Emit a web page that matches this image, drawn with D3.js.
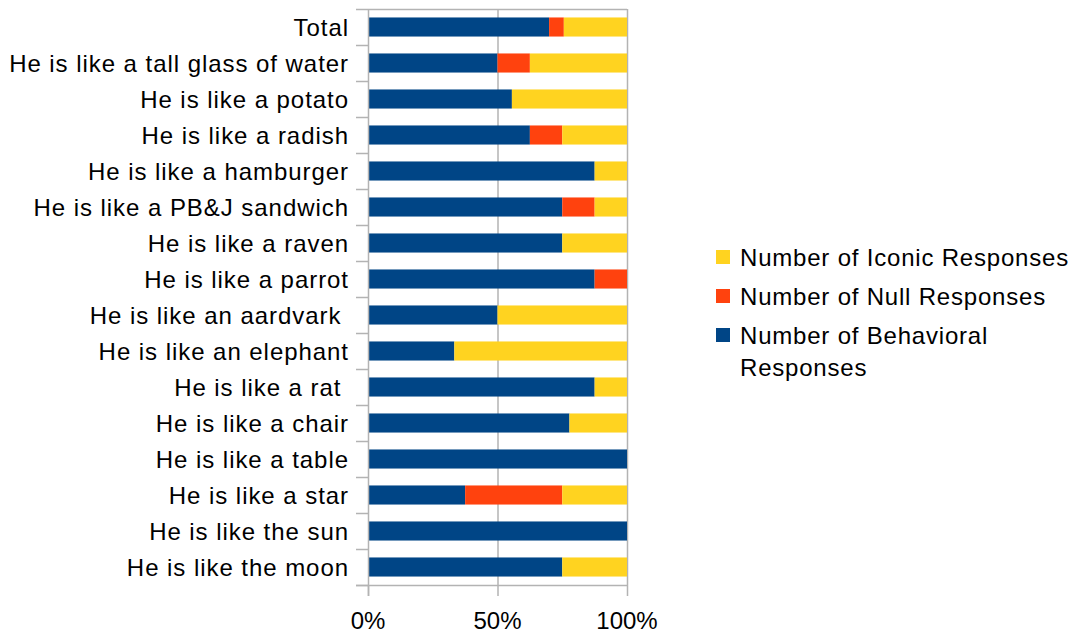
<!DOCTYPE html>
<html>
<head>
<meta charset="utf-8">
<script src="https://cdn.jsdelivr.net/npm/d3@7"></script>
<style>
	body { margin: 0; background: #fff; }
	text { font-family: "Liberation Sans", Arial, sans-serif; fill: #000; }
</style>
</head>
<body>
<div id="chart"></div>
<script>
'use strict';

// categories, top to bottom
const categories = [
	"Total",
	"He is like a tall glass of water",
	"He is like a potato",
	"He is like a radish",
	"He is like a hamburger",
	"He is like a PB&J sandwich",
	"He is like a raven",
	"He is like a parrot",
	"He is like an aardvark ",
	"He is like an elephant",
	"He is like a rat ",
	"He is like a chair",
	"He is like a table",
	"He is like a star",
	"He is like the sun",
	"He is like the moon"
];

// response counts per category
const behavioral = [86, 4, 5, 5, 7, 6, 6, 7, 4, 3, 7, 7, 8, 3, 8, 6];
const nullResp   = [ 7, 1, 0, 1, 0, 1, 0, 1, 0, 0, 0, 0, 0, 3, 0, 0];
const iconic     = [30, 3, 4, 2, 1, 1, 2, 0, 4, 6, 1, 2, 0, 2, 0, 2];

const seriesNames = ["Number of Behavioral Responses", "Number of Null Responses", "Number of Iconic Responses"];
const seriesColors = ["#004586", "#ff420e", "#ffd320"];
const xTicks = [0, 0.5, 1];

const width = 1078, height = 636;
const margin = { top: 9, left: 368, right: 451, bottom: 51 };

const svg = d3.select("#chart")
	.append("svg")
		.attr("width", width)
		.attr("height", height);

const rows = categories.map((c, i) => {
	const tot = behavioral[i] + nullResp[i] + iconic[i];
	return { cat: c, b: behavioral[i] / tot, n: nullResp[i] / tot, ic: iconic[i] / tot };
});

const stack = d3.stack().keys(["b", "n", "ic"]);
const series = stack(rows);

const x = d3.scaleLinear()
	.domain([0, 1])
	.range([margin.left, width - margin.right]);

const y = d3.scaleBand()
	.domain(categories)
	.range([margin.top, height - margin.bottom])
	.paddingInner(0.47)
	.paddingOuter(0.235);

const yLine = d3.scaleLinear()
	.domain([0, categories.length])
	.range([margin.top, height - margin.bottom]);

const grid = "#b3b3b3";

// vertical gridlines
svg.append("g")
	.selectAll("line")
	.data(xTicks.slice(1))
	.join("line")
		.attr("x1", d => x(d) + 0.5)
		.attr("x2", d => x(d) + 0.5)
		.attr("y1", margin.top)
		.attr("y2", height - margin.bottom)
		.attr("stroke", grid)
		.attr("stroke-width", 1.5);

// top edge
svg.append("line")
	.attr("x1", x(0)).attr("x2", x(1))
	.attr("y1", margin.top + 0.5).attr("y2", margin.top + 0.5)
	.attr("stroke", grid).attr("stroke-width", 1.5);

// bars
svg.append("g")
	.selectAll("g")
	.data(series)
	.join("g")
		.attr("fill", (d, i) => seriesColors[i])
	.selectAll("rect")
	.data(d => d)
	.join("rect")
		.attr("x", d => x(d[0]))
		.attr("width", d => x(d[1]) - x(d[0]))
		.attr("y", d => y(d.data.cat))
		.attr("height", y.bandwidth());

// y axis: line + ticks between categories
const yAxis = svg.append("g");
yAxis.append("line")
	.attr("x1", x(0) + 0.5).attr("x2", x(0) + 0.5)
	.attr("y1", margin.top).attr("y2", height - margin.bottom + 11)
	.attr("stroke", grid).attr("stroke-width", 1.5);
yAxis.selectAll("line.tick")
	.data(d3.range(categories.length + 1))
	.join("line")
		.attr("class", "tick")
		.attr("x1", x(0) - 12).attr("x2", x(0))
		.attr("y1", d => yLine(d) + 0.5)
		.attr("y2", d => yLine(d) + 0.5)
		.attr("stroke", grid).attr("stroke-width", 1.5);
yAxis.selectAll("text")
	.data(categories)
	.join("text")
		.attr("x", x(0) - 19)
		.attr("y", d => y(d) + y.bandwidth() / 2)
		.attr("dy", "0.36em")
		.attr("text-anchor", "end")
		.attr("font-size", 24)
		.attr("letter-spacing", 0.95)
		.style("white-space", "pre")
		.text(d => d);

// x axis
const xAxis = svg.append("g");
xAxis.selectAll("line")
	.data(xTicks)
	.join("line")
		.attr("x1", d => x(d) + 0.5).attr("x2", d => x(d) + 0.5)
		.attr("y1", height - margin.bottom)
		.attr("y2", height - margin.bottom + 11)
		.attr("stroke", grid).attr("stroke-width", 1.5);
xAxis.append("line")
	.attr("x1", x(0) - 12).attr("x2", x(1))
	.attr("y1", height - margin.bottom + 0.5).attr("y2", height - margin.bottom + 0.5)
	.attr("stroke", grid).attr("stroke-width", 1.5);
xAxis.selectAll("text")
	.data(xTicks)
	.join("text")
		.attr("x", d => x(d))
		.attr("y", height - margin.bottom + 44)
		.attr("text-anchor", "middle")
		.attr("font-size", 24)
		.text(d3.format(".0%"));

// legend (reverse order, like the original)
const legendRows = [
	{ name: ["Number of Iconic Responses"], color: seriesColors[2], y: 257 },
	{ name: ["Number of Null Responses"], color: seriesColors[1], y: 296 },
	{ name: ["Number of Behavioral", "Responses"], color: seriesColors[0], y: 335 }
];
const legend = svg.append("g");
const lg = legend.selectAll("g")
	.data(legendRows)
	.join("g")
		.attr("transform", d => `translate(716, ${d.y})`);
lg.append("rect")
	.attr("x", 0).attr("y", -7)
	.attr("width", 14).attr("height", 14)
	.attr("fill", d => d.color);
lg.append("text")
	.attr("font-size", 24)
	.attr("letter-spacing", 0.8)
	.selectAll("tspan")
	.data(d => d.name)
	.join("tspan")
		.attr("x", 24)
		.attr("y", (d, i) => i * 32)
		.attr("dy", "0.36em")
		.text(d => d);
</script>
</body>
</html>
